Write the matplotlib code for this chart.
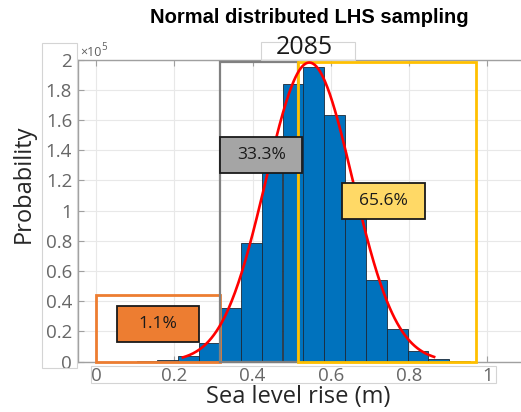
import numpy as np
import matplotlib
matplotlib.use('Agg')
import matplotlib.pyplot as plt
from matplotlib.patches import Rectangle

# histogram (bin left edges, in m) and bar heights (x1e5)
bin_left = [0.104, 0.157, 0.210, 0.263, 0.317, 0.370, 0.423, 0.477,
            0.530, 0.583, 0.636, 0.690, 0.743, 0.796, 0.849, 0.903]
bin_width = 0.0533
bar_height = [0.003, 0.009, 0.035, 0.127, 0.358, 0.785, 1.38, 1.84,
              1.95, 1.63, 1.08, 0.54, 0.215, 0.068, 0.018, 0.003]

# fitted normal curve parameters
fit_mu = 0.545
fit_sigma = 0.111
fit_peak = 1.98
fit_range = (0.222, 0.864)

# highlighted regions: (x0, x1, top) and their share labels
region_x = [(0.0, 0.316), (0.318, 0.515), (0.515, 0.970)]
region_top = [0.44, 1.985, 1.985]
region_label = ['1.1%', '33.3%', '65.6%']
label_box = [(0.053, 0.262, 0.132, 0.367), (0.317, 0.527, 1.247, 1.485),
             (0.629, 0.841, 0.944, 1.181)]

xticks = [0, 0.2, 0.4, 0.6, 0.8, 1]
xtick_labels = ['0', '0.2', '0.4', '0.6', '0.8', '1']
yticks = [0, 0.2, 0.4, 0.6, 0.8, 1.0, 1.2, 1.4, 1.6, 1.8, 2.0]
ytick_labels = ['0', '0.2', '0.4', '0.6', '0.8', '1', '1.2', '1.4', '1.6', '1.8', '2']

edge_colors = ['#ED7D31', '#808080', '#FFC000']
fill_colors = ['#ED7D31', '#A5A5A5', '#FFD966']
line_widths = [2.0, 1.6, 2.0]

plt.rcParams['font.family'] = ['Open Sans', 'DejaVu Sans']

fig = plt.figure(figsize=(5.21, 4.12), dpi=100)
W, H = 521.0, 412.0
ax = fig.add_axes([77.7 / W, 1 - 361.7 / H, (W - 77.7) / W, (361.7 - 59.5) / H])

ax.bar(bin_left, bar_height, width=bin_width, align='edge', color='#0072BD',
       edgecolor='#1b2a3a', linewidth=0.6, zorder=2)

xs = np.linspace(fit_range[0], fit_range[1], 300)
ys = fit_peak * np.exp(-0.5 * ((xs - fit_mu) / fit_sigma) ** 2)
ax.plot(xs, ys, color='#FF0000', lw=1.9, zorder=4)

for (x0, x1), top, ec, lw in zip(region_x, region_top, edge_colors, line_widths):
    ax.add_patch(Rectangle((x0, 0), x1 - x0, top, fill=False, edgecolor=ec,
                           lw=lw, zorder=3, clip_on=False))

for (x0, x1, y0, y1), txt, fc in zip(label_box, region_label, fill_colors):
    ax.add_patch(Rectangle((x0, y0), x1 - x0, y1 - y0, facecolor=fc,
                           edgecolor='#1a1a1a', lw=1.3, zorder=6))
    ax.text((x0 + x1) / 2, (y0 + y1) / 2, txt, ha='center', va='center',
            fontsize=12.5, color='#1a1a1a', zorder=7)

ax.set_xlim(-0.0468, 1.086)
ax.set_ylim(0, 2.0)
ax.set_xticks(xticks)
ax.set_xticklabels(xtick_labels)
ax.set_yticks(yticks)
ax.set_yticklabels(ytick_labels)
ax.grid(True, color='#e8e8e8', lw=0.8, zorder=0)
ax.set_axisbelow(True)
ax.tick_params(direction='in', top=True, length=4, color='#a0a0a0',
               labelcolor='#676767', labelsize=13.5)
ax.tick_params(axis='y', pad=4.0)
ax.tick_params(axis='x', pad=3.5)
for s in ['left', 'top', 'bottom']:
    ax.spines[s].set_color('#a0a0a0')
    ax.spines[s].set_linewidth(1.0)
ax.spines['right'].set_visible(False)

# boxes around tick labels and year label
for (x0, y0, x1, y1) in [(41.7, 42.7, 76.7, 368), (90.7, 366, 496, 383.3),
                         (260.7, 42.3, 355.3, 59.5)]:
    fig.add_artist(Rectangle((x0 / W, 1 - y1 / H), (x1 - x0) / W, (y1 - y0) / H,
                             transform=fig.transFigure, fill=False,
                             edgecolor='#d4d4d4', lw=0.8))

fig.text(304.2 / W, 1 - 54 / H, '2085', ha='center', va='baseline',
         fontsize=18, color='#1a1a1a')
fig.text(309 / W, 1 - 22.7 / H, 'Normal distributed LHS sampling', ha='center',
         va='baseline', fontsize=14.5, fontweight='bold',
         family=['Liberation Sans', 'DejaVu Sans'])
fig.text(80 / W, 1 - 56.5 / H, '\u00d710', ha='left', va='baseline',
         fontsize=9, color='#606060')
fig.text(101.5 / W, 1 - 50 / H, '5', ha='left', va='baseline',
         fontsize=7, color='#606060')
fig.text(36 / W, 1 - 183.4 / H, 'Probability', rotation=90, ha='right',
         va='center', fontsize=17, color='#262626')
fig.text(298.3 / W, 1 - 403 / H, 'Sea level rise (m)', ha='center',
         va='baseline', fontsize=17, color='#262626')

fig.savefig('out.png', dpi=100)
